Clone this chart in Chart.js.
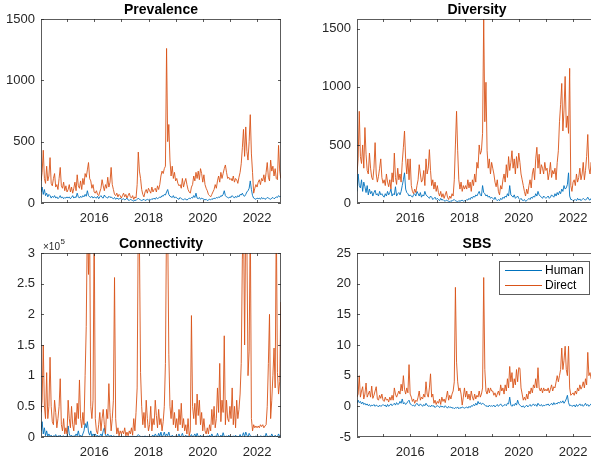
<!DOCTYPE html>
<html>
<head>
<meta charset="utf-8">
<script src="https://cdn.jsdelivr.net/npm/chart.js@4.4.1/dist/chart.umd.min.js"></script>
<style>
  html, body { margin: 0; padding: 0; background: #fff; overflow: hidden; }
  #fig { position: relative; width: 591px; height: 463px; overflow: hidden; background: #fff; }
  .panel { position: absolute; }
  .panel canvas { display: block; }
</style>
</head>
<body>
<div id="fig">
  <div class="panel" style="left:0;top:0"><canvas id="prevChart" width="296" height="228"></canvas></div>
  <div class="panel" style="left:316px;top:0"><canvas id="divChart" width="296" height="228"></canvas></div>
  <div class="panel" style="left:0;top:234px"><canvas id="connChart" width="296" height="229"></canvas></div>
  <div class="panel" style="left:316px;top:234px"><canvas id="sbsChart" width="296" height="229"></canvas></div>
</div>
<script>
// time axis: two samples a month, starting early Jan 2014 (decimal years)
const T0 = 2014.04;
const STEP = 1 / 24;
const X_MIN = 2014.04;
const X_MAX = 2022.88;

const seriesNames = ['Human', 'Direct'];
const yearTicks = [2015, 2016, 2017, 2018, 2019, 2020, 2021, 2022];
const prevTicks = [0, 500, 1000, 1500];
const divTicks = [0, 500, 1000, 1500];
const connTicks = [0, 0.5, 1, 1.5, 2, 2.5, 3];
const sbsTicks = [-5, 0, 5, 10, 15, 20, 25];

// one row per year
const prevHuman = [
    90,130,70,110,60,80,50,70,60,40,55,45,60,40,50,35,45,60,40,50,35,45,40,50,
    40,50,35,45,60,40,50,45,80,50,40,55,45,60,50,70,55,100,60,50,45,55,40,50,
    45,40,55,35,50,60,45,40,65,50,45,40,55,45,50,40,35,45,30,40,35,30,40,30,
    30,35,25,30,40,25,20,30,25,20,15,25,20,30,40,30,25,20,25,30,20,25,30,25,
    30,25,35,30,40,30,45,35,40,50,45,60,55,70,65,90,110,70,55,50,45,60,40,50,
    40,35,30,45,35,30,25,35,30,25,30,40,35,45,40,60,45,80,40,35,45,30,40,35,
    30,25,30,20,25,30,25,35,30,40,35,45,40,50,45,60,55,70,100,60,50,45,40,50,
    45,60,50,40,55,45,60,50,70,65,80,60,55,70,90,100,120,180,110,60,40,35,30,40,
    35,40,30,45,35,40,30,35,45,40,35,30,40,45,35,40,50,45,60,50,55
];
const prevDirect = [
    180,250,430,200,160,300,180,220,370,160,140,200,240,130,150,110,200,290,140,120,170,100,140,90,
    110,150,90,130,80,120,170,100,230,140,120,180,110,200,150,240,210,270,330,200,180,120,150,90,
    80,100,70,60,90,120,190,140,100,150,120,210,130,170,290,150,110,70,60,80,50,70,60,40,
    60,80,50,70,40,60,80,50,40,60,30,50,40,150,415,260,200,110,70,50,90,110,80,120,
    100,80,130,90,110,120,90,140,110,150,220,260,240,280,300,1260,500,640,350,220,300,200,250,180,
    200,160,140,150,120,200,130,170,200,150,110,90,80,130,150,220,180,250,200,260,190,280,240,170,
    230,150,120,100,70,60,50,70,90,110,150,120,180,220,170,250,200,240,280,310,250,200,210,190,
    200,180,220,170,200,190,160,210,250,320,450,600,380,620,420,350,500,720,400,250,80,120,150,130,
    170,190,150,200,180,230,170,250,330,210,180,350,260,300,220,280,200,190,470,260,200
];

const divHuman = [
    100,250,150,130,200,100,180,140,90,150,70,120,80,100,60,90,110,70,80,60,100,70,80,60,
    50,80,60,100,70,90,120,60,80,70,140,60,80,90,70,100,150,200,260,120,90,80,60,70,
    60,50,70,80,60,100,80,60,90,50,70,60,100,70,60,50,40,60,50,30,40,50,30,40,
    30,20,40,25,30,20,15,25,20,15,10,20,15,25,30,20,15,10,20,15,20,25,15,20,
    20,30,25,40,30,50,40,60,50,70,60,80,100,70,60,150,90,80,60,70,50,60,40,50,
    40,30,50,30,20,30,20,40,30,50,40,60,50,80,60,150,70,60,50,70,40,50,60,40,
    30,40,25,20,30,15,20,30,40,30,50,40,60,50,80,60,100,70,60,50,40,60,50,40,
    50,60,40,50,70,60,50,80,60,90,70,100,80,120,100,150,120,130,160,260,60,30,30,20,
    25,30,20,40,25,35,20,30,40,30,25,35,50,30,25,40,30,35,45,30,40
];
const divDirect = [
    250,380,790,400,340,500,300,650,420,280,250,430,300,220,200,300,520,250,180,230,300,380,220,170,
    200,150,250,180,140,200,120,260,180,430,220,160,300,200,250,180,350,480,620,380,250,380,200,380,
    150,100,80,120,90,150,200,330,250,180,200,280,150,380,250,300,460,280,150,200,120,180,100,150,
    90,60,100,50,80,40,70,100,50,30,60,40,80,60,200,500,790,450,200,120,180,100,150,120,
    150,120,200,130,180,100,200,150,250,180,350,300,500,420,450,600,1600,700,1040,450,300,380,250,350,
    300,250,180,140,200,100,70,150,120,200,250,180,330,220,400,280,350,450,300,380,250,400,300,430,
    350,250,200,150,100,60,120,80,150,200,130,250,300,200,380,480,300,420,250,330,300,250,350,280,
    300,200,260,350,220,280,250,300,200,350,450,700,850,1030,620,800,1090,650,750,600,1160,150,100,180,
    200,150,250,180,220,300,200,250,350,200,280,400,590,300,250,350,280,320,250,300,350
];

// connectivity in units of 1e5
const connHuman = [
    0.1,0.25,0.05,0.15,0.02,0.1,0.01,0.05,0.01,0.03,0,0.02,0.01,0.04,0,0.02,0.01,0.03,0,0.01,0.02,0,0.01,0,
    0.18,0.05,0.01,0.03,0,0.02,0.01,0.05,0.02,0.1,0.01,0.03,0,0.05,0.1,0.22,0.15,0.25,0.08,0.03,0.1,0.01,0.05,0.02,
    0.05,0.01,0.03,0,0.02,0.05,0.01,0.1,0.15,0.03,0.01,0.05,0.02,0.01,0.03,0,0.02,0.01,0,0.01,0,0.02,0,0.01,
    0,0.01,0,0.02,0,0.01,0,0.01,0,0.02,0,0.01,0,0.02,0.04,0.02,0.01,0,0.01,0,0.02,0,0.01,0,
    0.01,0,0.02,0.03,0,0.05,0.02,0,0.06,0.01,0.08,0,0.03,0.08,0.01,0.05,0.02,0.08,0.01,0,0.03,0.01,0,0.02,
    0,0.01,0.05,0,0.02,0.06,0,0.01,0.03,0,0.02,0,0.01,0.04,0,0.02,0.05,0,0.06,0.01,0,0.03,0,0.02,
    0,0.01,0,0.02,0,0.03,0,0.05,0.01,0,0.02,0,0.06,0.01,0,0.03,0,0.07,0.01,0,0.02,0,0.03,0,
    0.01,0,0.02,0,0.03,0,0.01,0,0.04,0,0.02,0.07,0,0.08,0.03,0,0.06,0.02,0.01,0,0.01,0,0.02,0,
    0.01,0,0.02,0.01,0,0.02,0,0.06,0.01,0,0.02,0,0.05,0.01,0,0.03,0.01,0,0.05,0.01,0.02
];
const connDirect = [
    0.4,0.6,1.5,0.5,0.3,1.05,0.3,0.5,1.3,0.5,0.25,0.2,0.6,0.4,0.15,0.3,0.5,0.95,0.2,0.1,0.3,0.05,0.15,0.05,
    0.6,0.3,0.15,0.5,0.2,0.1,0.4,0.2,0.55,0.3,0.93,0.3,0.15,0.4,0.2,1.0,1.8,3.6,2.65,3.5,0.5,0.3,0.6,3.5,
    0.3,0.1,0.05,0.2,0.4,0.1,0.3,0.45,0.2,0.05,0.45,0.3,0.87,0.4,0.1,0.3,0.6,2.6,0.3,0.05,0.15,0.02,0.1,0.05,
    0.1,0.05,0.15,0.02,0.08,0.02,0.1,0.05,0.15,0.03,0.3,0.1,0.4,0.8,3.6,3.2,1.05,0.5,0.2,0.4,0.15,0.6,0.3,0.1,
    0.2,0.5,0.1,0.3,0.2,0.6,0.35,0.15,0.45,0.2,0.3,0.1,0.25,0.5,1.2,3.6,3.4,1.35,0.5,0.3,0.6,0.2,0.4,0.15,
    0.3,0.1,0.45,0.2,0.55,0.15,0.3,0.1,0.2,0.05,0.3,0.02,0.1,1.98,0.5,0.3,0.55,0.2,0.7,0.35,0.6,0.2,0.4,0.1,
    0.3,0.1,0.05,0.15,0.05,0.2,0.1,0.45,0.2,0.5,0.15,0.3,0.8,0.4,1.2,0.25,0.6,0.4,1.65,0.2,0.6,0.3,0.25,0.5,
    0.3,0.8,0.2,0.5,0.15,0.6,0.3,0.45,0.7,1.2,2.9,3.6,1.5,3.6,3.2,1.0,1.4,3.6,0.3,0.1,0.2,0.15,0.18,0.15,
    0.18,0.15,0.2,0.17,0.2,0.15,0.18,0.2,0.5,1.2,2.0,0.3,0.6,1.0,1.45,0.8,3.6,1.05,0.7,0.9,2.2
];

const sbsHuman = [
    0.5,1,0.6,0.8,0.4,0.7,0.3,0.5,0.2,0.4,0.1,0.3,0,0.2,0.1,0.3,0,0.2,0.1,-0.1,0.2,0,0.1,0.3,
    0.1,0.2,-0.1,0.3,0,0.2,0.4,0.1,0.3,0.5,0.2,0.6,0.3,0.4,0.8,0.5,1.2,0.4,0.6,0.3,0.5,0.8,1,0.4,
    0.3,0.1,0.2,0,0.3,0.5,0.2,0.1,0.4,0.2,0,0.3,0.1,0.5,0.2,0,0.1,-0.1,0.2,0,0.1,-0.2,0,0.1,
    0,-0.2,0.1,-0.1,0,-0.2,0.1,-0.1,-0.3,0,-0.2,-0.1,-0.3,-0.2,-0.4,-0.2,-0.3,-0.1,-0.4,-0.2,-0.3,-0.1,-0.2,-0.3,
    -0.2,-0.1,-0.3,0,-0.2,0.1,0,0.3,0.1,0.5,0.2,0.8,0.4,0.6,0.3,0.5,0.4,0.2,0,0.1,-0.1,0.2,0,0.1,
    0,0.2,-0.1,0.1,0.3,0,0.2,0.4,0.1,0,0.2,0.3,0.1,0.5,0.4,1.5,0.2,0,0.3,0.1,0.5,0.2,1,0.4,
    0.2,0,-0.1,0.1,-0.2,0,0.2,-0.1,0.1,0.3,0,0.2,0.4,0.1,0.3,0,0.5,0.2,0.1,0.3,0,0.2,0.1,0.3,
    0.2,0.4,0.1,0.3,0.5,0.2,0.6,0.3,0.5,0.4,0.7,0.5,0.8,0.6,0.9,0.5,0.8,1.2,1.8,0.6,0.1,0.2,0,0.1,
    0.2,-0.1,0.3,0,0.2,0.4,0.1,0.3,0,0.2,0.5,0.1,0.3,0,0.2,0.4,0.2,0.1,0.4,0.3,0.5
];
const sbsDirect = [
    1.5,2,5,1.5,2.5,3.2,1.2,2,3.8,1.5,2,2.5,1.5,3.3,1.3,1.8,2.5,3.2,1.2,1,1.8,1.3,2,1,
    0.8,1.5,1,1.2,0.7,1.5,1,1.8,1,3,2,1.5,2,2.5,2,3.6,2.5,5,2.8,2,3,2.2,6.8,2,
    1.5,0.8,1.2,0.5,1,0.8,1.5,2.5,1,1.5,1.2,2,1.5,4,2,1.5,3,5.3,1.5,2,0.5,1,0.3,0.8,
    0.5,1.2,0.3,1.5,0.8,1.2,0.6,1.5,2.5,1,1.8,1.2,2,2.5,4,19.4,7.2,4,2.5,3,2,0.2,1.5,3,
    1.5,2.5,1.2,2,1,2.5,1.5,1,2,1.2,1.8,1.5,2.5,1.5,2,3,21,6,2.5,2,3,2.2,3,2.5,
    2.5,1.8,2.2,1.5,2,2.5,1.8,3.5,2.5,3,2,3.5,2.5,4.5,3,6.5,4,5.5,3,4.5,3.5,6,4,6.3,
    6.2,3,2,1,1.5,1,2,1.2,2.5,2,3,2.2,3.5,3,4.5,3,6.3,3,2.5,3,2.2,3,2.5,2.8,
    2.5,3,2.2,2.8,3.5,2.5,3.2,3,4,5,4,5,6,9.5,6,7.5,9.8,6,5,9.8,3,1.8,2,2.2,
    1.8,2.5,2,3,2.5,3.5,2.8,3.2,4,3,4.5,3.5,8.8,5,5.5,4.5,5,4,5,4.5,5
];

//__________________________________________________________

const HUMAN_COLOR = '#0072BD';
const DIRECT_COLOR = '#D95319';
const AXIS_COLOR = '#262626';
const TICK_LEN = 3;

Chart.defaults.font.family = "'Liberation Sans', Arial, Helvetica, sans-serif";
Chart.defaults.font.size = 13;
Chart.defaults.color = AXIS_COLOR;

// box round the plot area with inward ticks on all four sides
const axesBox = {
    id: 'axesBox',
    afterDatasetsDraw(chart) {
        const { ctx, chartArea: a, scales } = chart;
        ctx.save();
        ctx.strokeStyle = AXIS_COLOR;
        ctx.globalAlpha = 0.75;
        ctx.lineWidth = 1;
        ctx.strokeRect(a.left + 0.5, a.top + 0.5, a.width - 1, a.height - 1);
        ctx.beginPath();
        scales.x.ticks.forEach(t => {
            const px = Math.round(scales.x.getPixelForValue(t.value)) + 0.5;
            ctx.moveTo(px, a.bottom);
            ctx.lineTo(px, a.bottom - TICK_LEN);
            ctx.moveTo(px, a.top);
            ctx.lineTo(px, a.top + TICK_LEN);
        });
        scales.y.ticks.forEach(t => {
            const py = Math.round(scales.y.getPixelForValue(t.value)) + 0.5;
            ctx.moveTo(a.left, py);
            ctx.lineTo(a.left + TICK_LEN, py);
            ctx.moveTo(a.right, py);
            ctx.lineTo(a.right - TICK_LEN, py);
        });
        ctx.stroke();
        ctx.restore();
    }
};

// bold title centred over the plot area, plus the optional x10^n label
const panelTitle = {
    id: 'panelTitle',
    afterDraw(chart, args, opts) {
        const { ctx, chartArea: a } = chart;
        ctx.save();
        ctx.fillStyle = '#000';
        ctx.font = "bold 14px 'Liberation Sans', Arial, sans-serif";
        ctx.textAlign = 'center';
        ctx.textBaseline = 'alphabetic';
        ctx.fillText(opts.text, (a.left + a.right) / 2, a.top - 5);
        if (opts.exponent) {
            ctx.fillStyle = AXIS_COLOR;
            ctx.textAlign = 'left';
            ctx.font = "10px 'Liberation Sans', Arial, sans-serif";
            ctx.fillText('\u00d710', a.left + 2, a.top - 3);
            const w = ctx.measureText('\u00d710').width;
            ctx.font = "8px 'Liberation Sans', Arial, sans-serif";
            ctx.fillText(opts.exponent, a.left + 2.5 + w, a.top - 9);
        }
        ctx.restore();
    }
};

// legend box inside the top right corner of the axes
const boxLegend = {
    id: 'boxLegend',
    afterDraw(chart, args, opts) {
        if (!opts.display) return;
        const { ctx, chartArea: a } = chart;
        const w = 91, h = 34;
        const left = a.right - 7 - w;
        const top = a.top + 8;
        ctx.save();
        ctx.fillStyle = '#fff';
        ctx.fillRect(left, top, w, h);
        ctx.strokeStyle = AXIS_COLOR;
        ctx.globalAlpha = 0.75;
        ctx.lineWidth = 1;
        ctx.strokeRect(left + 0.5, top + 0.5, w - 1, h - 1);
        ctx.globalAlpha = 1;
        ctx.font = "12px 'Liberation Sans', Arial, sans-serif";
        ctx.textBaseline = 'middle';
        ctx.textAlign = 'left';
        chart.data.datasets.forEach((ds, i) => {
            const y = top + 9.5 + i * 15;
            ctx.strokeStyle = ds.borderColor;
            ctx.lineWidth = 1;
            ctx.beginPath();
            ctx.moveTo(left + 6, y);
            ctx.lineTo(left + 43, y);
            ctx.stroke();
            ctx.fillStyle = '#000';
            ctx.fillText(ds.label, left + 46, y);
        });
        ctx.restore();
    }
};

function toPoints(values) {
    return values.map((v, i) => ({ x: T0 + i * STEP, y: v }));
}

function makePanel(id, opts) {
    const ctx = document.getElementById(id);
    return new Chart(ctx, {
        type: 'line',
        data: {
            datasets: [{
                label: seriesNames[0],
                data: toPoints(opts.human),
                borderColor: HUMAN_COLOR,
                borderWidth: 0.9,
                pointRadius: 0,
                order: 1
            }, {
                label: seriesNames[1],
                data: toPoints(opts.direct),
                borderColor: DIRECT_COLOR,
                borderWidth: 0.9,
                pointRadius: 0,
                order: 0
            }]
        },
        options: {
            responsive: false,
            animation: false,
            events: [],
            layout: { padding: { top: 19, right: 15, bottom: 0, left: 0 } },
            scales: {
                x: {
                    type: 'linear',
                    min: X_MIN,
                    max: X_MAX,
                    grid: { display: false, drawTicks: false },
                    border: { display: false },
                    afterBuildTicks: s => { s.ticks = yearTicks.map(v => ({ value: v })); },
                    afterFit: s => { s.height = opts.xHeight; },
                    ticks: {
                        autoSkip: false,
                        maxRotation: 0,
                        padding: 8,
                        callback: v => (v % 2 === 0 ? String(v) : '')
                    }
                },
                y: {
                    min: opts.yMin,
                    max: opts.yMax,
                    grid: { display: false, drawTicks: false },
                    border: { display: false },
                    afterBuildTicks: s => { s.ticks = opts.yTicks.map(v => ({ value: v })); },
                    afterFit: s => { s.width = 41; },
                    ticks: {
                        padding: 6,
                        callback: v => String(v)
                    }
                }
            },
            plugins: {
                legend: { display: false },
                tooltip: { enabled: false },
                panelTitle: { text: opts.title, exponent: opts.exponent },
                boxLegend: { display: !!opts.legend }
            }
        },
        plugins: [axesBox, panelTitle, boxLegend]
    });
}

makePanel('prevChart', {
    title: 'Prevalence', human: prevHuman, direct: prevDirect,
    yMin: 0, yMax: 1500, yTicks: prevTicks, xHeight: 25
});
makePanel('divChart', {
    title: 'Diversity', human: divHuman, direct: divDirect,
    yMin: 0, yMax: 1585, yTicks: divTicks, xHeight: 25
});
makePanel('connChart', {
    title: 'Connectivity', human: connHuman, direct: connDirect,
    yMin: 0, yMax: 3, yTicks: connTicks, xHeight: 26, exponent: '5'
});
makePanel('sbsChart', {
    title: 'SBS', human: sbsHuman, direct: sbsDirect,
    yMin: -5, yMax: 25, yTicks: sbsTicks, xHeight: 26, legend: true
});
</script>
</body>
</html>
